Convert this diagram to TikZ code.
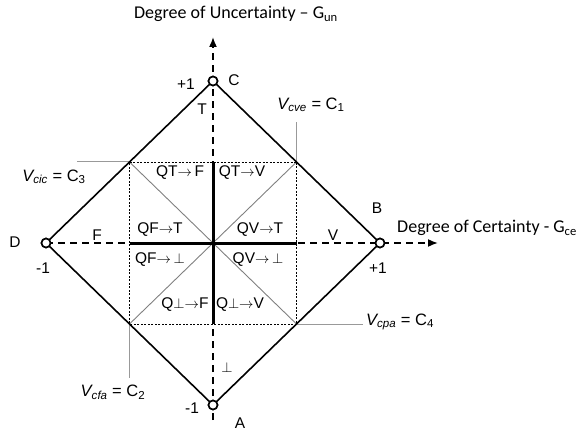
\documentclass[tikz,border=0pt]{standalone}
\usepackage{fontspec}
\setmainfont{Liberation Sans}
\newfontfamily\calibrifont{Carlito}
\usetikzlibrary{arrows.meta}
\begin{document}
\begin{tikzpicture}[x=1pt,y=-1pt,
  lbl/.style={font=\fontsize{15.5}{17}\selectfont, inner sep=0pt},
  vlbl/.style={font=\fontsize{16.5}{18}\selectfont, inner sep=0pt},
  axt/.style={font=\calibrifont\fontsize{18}{20}\selectfont, inner sep=0pt},
  vert/.style={circle, draw, line width=1.6pt, fill=white, minimum size=9pt, inner sep=0pt},
  edgeline/.style={line width=1.6pt},
  axisline/.style={line width=1.6pt, dash pattern=on 7pt off 5pt, -{Latex[length=10pt,width=8pt]}},
  inner/.style={line width=0.9pt, dash pattern=on 2pt off 1.5pt},
  diag/.style={line width=0.9pt, gray},
  leader/.style={line width=1pt, gray!80},
  crossline/.style={line width=3pt}
]
\useasboundingbox (0,0) rectangle (584,433);
% key points
\coordinate (O) at (213,243);
\coordinate (q1) at (129.5,162);
\coordinate (q2) at (296.5,162);
\coordinate (q3) at (296.5,324);
\coordinate (q4) at (129.5,324);
\coordinate (vtop) at (213,37);
\coordinate (vbot) at (213,420);
\coordinate (hend) at (438,243);
\coordinate (l1) at (296.5,122);
\coordinate (l3) at (77,162);
\coordinate (l4) at (363,324);
\coordinate (l2) at (129.5,378);
% leaders
\draw[leader] (q2) -- (l1);
\draw[leader] (q1) -- (l3);
\draw[leader] (q3) -- (l4);
\draw[leader] (q4) -- (l2);
% inner square and diagonals
\draw[diag] (q1) -- (q3);
\draw[diag] (q2) -- (q4);
\draw[inner] (q1) -- (q2) -- (q3) -- (q4) -- cycle;
% diamond vertices
\node[vert] (cC) at (213,81) {};
\node[vert] (cA) at (213,405) {};
\node[vert] (cD) at (46,243) {};
\node[vert] (cB) at (380,243) {};
% axes
\draw[axisline] (vbot) -- (vtop);
\draw[axisline] (cD.center) -- (hend);
% thick cross
\draw[crossline] (O |- q1) -- (O |- q4);
\draw[crossline] (q1 |- O) -- (q2 |- O);
% diamond
\draw[edgeline] (cC) -- (cB) -- (cA) -- (cD) -- (cC);
\node[vert] at (cC) {};
\node[vert] at (cA) {};
\node[vert] at (cD) {};
\node[vert] at (cB) {};
% axis titles
\node[axt] (tun) at (236,14) {Degree of Uncertainty – G\textsubscript{un}};
\node[axt] (tce) at (487,228) {Degree of Certainty - G\textsubscript{ce}};
% vertex labels
\node[lbl] (pC) at (186,84) {+1};
\node[lbl] (nC) at (234,80) {C};
\node[lbl] (nB) at (377,208) {B};
\node[lbl] (pB) at (378,268) {+1};
\node[lbl] (nD) at (15,242) {D};
\node[lbl] (mD) at (43,268) {-1};
\node[lbl] (nA) at (240,423) {A};
\node[lbl] (mA) at (192,408) {-1};
% state labels
\node[lbl] (sT) at (202,109) {T};
\node[lbl] (sF) at (97,235) {F};
\node[lbl] (sV) at (333,235) {V};
\node[lbl] (sP) at (227,367) {$\perp$};
% quadrant labels
\node[lbl] (qtf) at (180,173) {QT$\rightarrow$\,F};
\node[lbl] (qtv) at (242,173) {QT$\rightarrow$V};
\node[lbl] (qft) at (160,230) {QF$\rightarrow$T};
\node[lbl] (qvt) at (260,230) {QV$\rightarrow$T};
\node[lbl] (qfp) at (160,260) {QF$\rightarrow$\,$\perp$};
\node[lbl] (qvp) at (258,260) {QV$\rightarrow$\,$\perp$};
\node[lbl] (qpf) at (185,305) {Q$\perp\rightarrow$F};
\node[lbl] (qpv) at (240,305) {Q$\perp\rightarrow$V};
% V labels
\node[vlbl] (vc1) at (311,105) {\itshape V\textsubscript{cve}\upshape{} = C\textsubscript{1}};
\node[vlbl] (vc3) at (54,177) {\itshape V\textsubscript{cic}\upshape{} = C\textsubscript{3}};
\node[vlbl, anchor=west] (vc4) at (366,322) {\itshape V\textsubscript{cpa}\upshape{} = C\textsubscript{4}};
\node[vlbl] (vc2) at (113,392) {\itshape V\textsubscript{cfa}\upshape{} = C\textsubscript{2}};
\end{tikzpicture}
\end{document}
